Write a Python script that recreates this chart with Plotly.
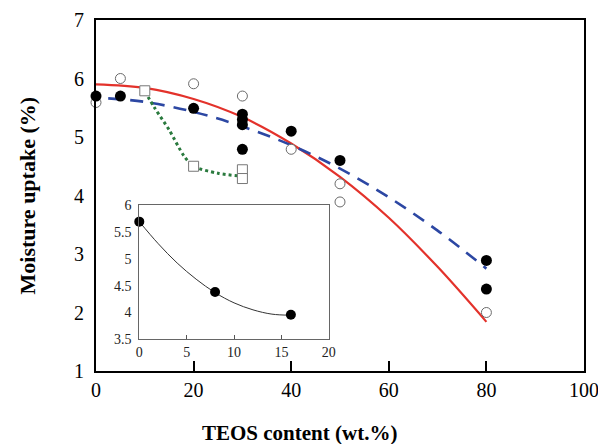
import plotly.graph_objects as go

# ---- data ----
filled_x = [0, 5, 20, 30, 30, 30, 30, 40, 50, 80, 80]
filled_y = [5.70, 5.70, 5.49, 5.39, 5.30, 5.21, 4.79, 5.10, 4.60, 2.89, 2.40]

open_x = [0, 5, 20, 30, 40, 50, 50, 80]
open_y = [5.59, 6.00, 5.91, 5.70, 4.79, 4.20, 3.89, 2.00]

square_x = [10, 20, 30, 30]
square_y = [5.79, 4.50, 4.44, 4.29]

red_x = [0, 10, 20, 30, 40, 50, 60, 70, 80]
red_y = [5.90, 5.84, 5.65, 5.34, 4.89, 4.32, 3.62, 2.78, 1.84]

blue_x = [2.5, 10, 20, 30, 40, 50, 60, 70, 80]
blue_y = [5.66, 5.60, 5.43, 5.18, 4.86, 4.46, 3.97, 3.40, 2.75]

green_x = [10, 12, 15, 18, 20, 25, 30]
green_y = [5.78, 5.50, 5.12, 4.68, 4.50, 4.38, 4.33]

inset_pts_x = [0, 8, 16]
inset_pts_y = [5.69, 4.38, 3.96]
inset_curve_x = [0, 2, 4, 6, 8, 10, 12, 14, 16]
inset_curve_y = [5.69, 5.28, 4.92, 4.62, 4.37, 4.18, 4.05, 3.97, 3.95]

x_ticks = [0, 20, 40, 60, 80, 100]
y_ticks = [1, 2, 3, 4, 5, 6, 7]
inset_x_ticks = [0, 5, 10, 15, 20]
inset_y_ticks = [3.5, 4, 4.5, 5, 5.5, 6]
inset_y_labels = ["3.5", "4", "4.5", "5", "5.5", "6"]

SERIF = "Liberation Serif"

fig = go.Figure()

fig.add_trace(go.Scatter(x=red_x, y=red_y, mode="lines", line=dict(color="#e3322b", width=2.2, shape="spline"),
                         cliponaxis=False, hoverinfo="skip"))
fig.add_trace(go.Scatter(x=blue_x, y=blue_y, mode="lines",
                         line=dict(color="#2c47a3", width=2.6, dash="13px,9px", shape="spline"),
                         cliponaxis=False, hoverinfo="skip"))
fig.add_trace(go.Scatter(x=green_x, y=green_y, mode="lines",
                         line=dict(color="#2a7a3e", width=3, dash="dot", shape="spline", smoothing=0.8),
                         cliponaxis=False, hoverinfo="skip"))
fig.add_trace(go.Scatter(x=open_x, y=open_y, mode="markers",
                         marker=dict(symbol="circle", size=10, color="white", line=dict(color="#6a6a6a", width=1)),
                         cliponaxis=False))
fig.add_trace(go.Scatter(x=square_x, y=square_y, mode="markers",
                         marker=dict(symbol="square", size=10, color="white", line=dict(color="#777777", width=1)),
                         cliponaxis=False))
fig.add_trace(go.Scatter(x=filled_x, y=filled_y, mode="markers",
                         marker=dict(symbol="circle", size=11, color="black"),
                         cliponaxis=False))

# inset
fig.add_trace(go.Scatter(x=inset_curve_x, y=inset_curve_y, mode="lines", xaxis="x2", yaxis="y2",
                         line=dict(color="#333333", width=1, shape="spline"), hoverinfo="skip"))
fig.add_trace(go.Scatter(x=inset_pts_x, y=inset_pts_y, mode="markers", xaxis="x2", yaxis="y2",
                         marker=dict(symbol="circle", size=10, color="black"), cliponaxis=False))

fig.update_layout(
    width=598, height=444,
    margin=dict(l=96, r=14, t=20, b=73, autoexpand=False),
    paper_bgcolor="white", plot_bgcolor="white",
    showlegend=False,
    font=dict(family=SERIF, color="black"),
    xaxis=dict(range=[0, 100], tickvals=x_ticks, ticks="inside", ticklen=10, tickwidth=2, tickcolor="black",
               showline=True, linecolor="black", linewidth=2, mirror=True, showgrid=False, zeroline=False,
               automargin=False, ticklabeloverflow="allow",
               tickfont=dict(family=SERIF, size=20, color="black")),
    yaxis=dict(range=[1, 7], tickvals=y_ticks, ticks="", showline=True, linecolor="black", linewidth=2,
               mirror=True, showgrid=False, zeroline=False, ticklabelstandoff=6, automargin=False,
               tickfont=dict(family=SERIF, size=20, color="black")),
    xaxis2=dict(domain=[0.0887, 0.4770], anchor="y2", range=[0, 20], tickvals=inset_x_ticks, ticks="inside",
                ticklen=4, tickwidth=1, tickcolor="#555555", showline=True, linecolor="#666666", linewidth=1,
                mirror=True, showgrid=False, zeroline=False, automargin=False,
                tickfont=dict(family=SERIF, size=14, color="#222222")),
    yaxis2=dict(domain=[0.0900, 0.4730], anchor="x2", range=[3.5, 6], tickvals=inset_y_ticks,
                ticktext=inset_y_labels, ticks="", showline=True, linecolor="#666666", linewidth=1,
                mirror=True, showgrid=False, zeroline=False, ticklabelstandoff=4, automargin=False,
                tickfont=dict(family=SERIF, size=14, color="#222222")),
    annotations=[
        dict(text="<b>TEOS content (wt.%)</b>", xref="paper", yref="paper", x=(299 - 96) / 488,
             y=-(433 - 371) / 351, xanchor="center", yanchor="middle", showarrow=False,
             font=dict(family=SERIF, size=21, color="black")),
        dict(text="<b>Moisture uptake (%)</b>", xref="paper", yref="paper", x=(27 - 96) / 488,
             y=0.5, xanchor="center", yanchor="middle", textangle=-90, showarrow=False,
             font=dict(family=SERIF, size=22, color="black")),
    ],
)

fig.write_html("out.html", config={"displayModeBar": False},
               post_script="document.body.style.margin='0px';")
